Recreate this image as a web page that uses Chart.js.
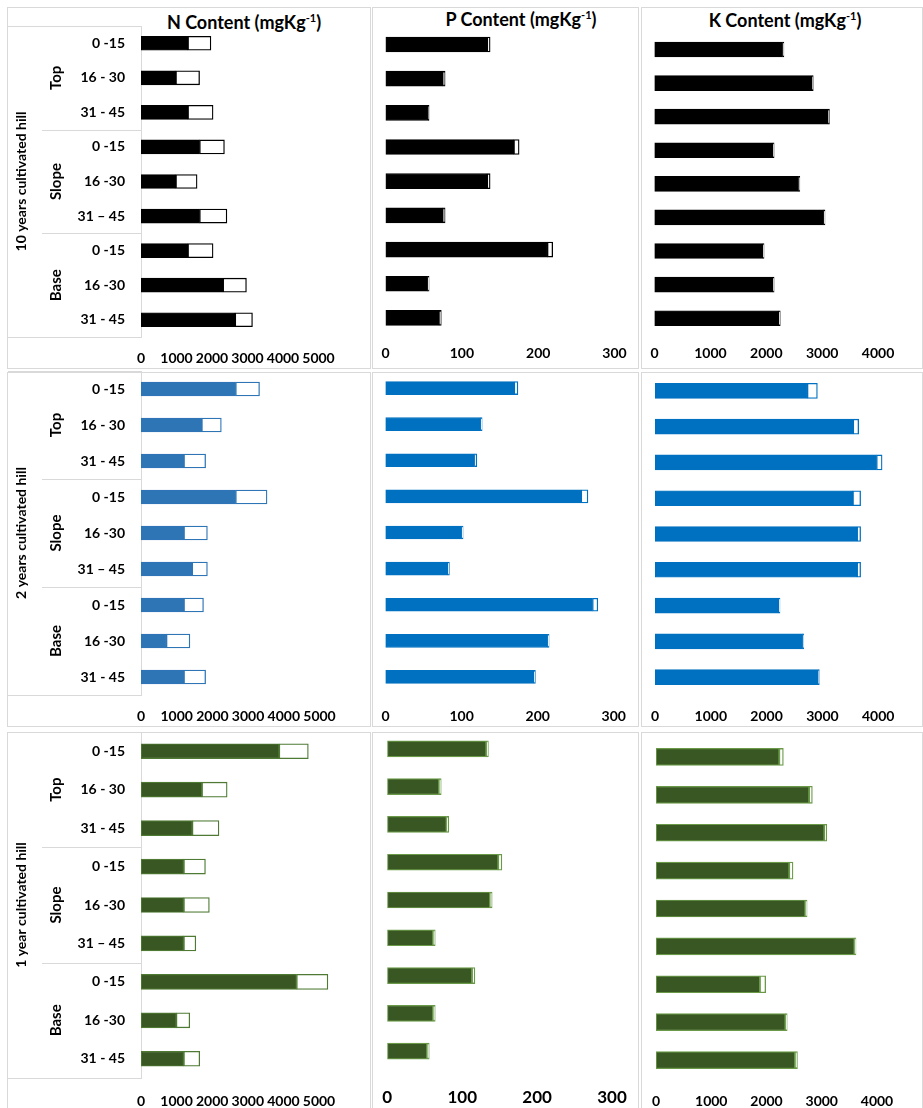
<!DOCTYPE html>
<html>
<head>
<meta charset="utf-8">
<script src="https://cdn.jsdelivr.net/npm/chart.js@4.4.1/dist/chart.umd.min.js"></script>
<style>
  html, body { margin: 0; padding: 0; background: #fff; }
  #wrap { position: relative; width: 923px; height: 1108px; overflow: hidden; background: #fff; font-family: Lato, "Open Sans", sans-serif; }
  .panel { position: absolute; border: 1px solid #d9d9d9; box-sizing: border-box; }
  canvas { position: absolute; }
  .title { position: absolute; height: 24px; line-height: 24px; text-align: center; font-weight: bold; font-size: 18px; color: #000; white-space: nowrap; width: 260px; }
  .title sup { font-size: 11px; line-height: 0; vertical-align: 7px; }
</style>
</head>
<body>
<div id="wrap"></div>
<script>
// ---------------- DATA ----------------
const depthLabels = ["0 -15", "16 - 30", "31 - 45", "0 -15", "16 -30", "31 \u2013 45", "0 -15", "16 -30", "31 - 45"];
const positionLabels = ["Top", "Slope", "Base"];
const hillLabels = ["10 years cultivated hill", "2 years cultivated hill", "1 year cultivated hill"];
const nutrientTitles = ["N Content (mgKg", "P Content (mgKg", "K Content (mgKg"];
const nTicks = [0, 1000, 2000, 3000, 4000, 5000];
const pTicks = [0, 100, 200, 300];
const kTicks = [0, 1000, 2000, 3000, 4000];
const nMax = 6000, pMax = 300, kMax = 4500;

// 10 years cultivated hill
const n10Lower = [1320, 980, 1320, 1650, 980, 1650, 1320, 2310, 2650];
const n10Upper = [650, 670, 710, 700, 600, 770, 710, 660, 490];
const p10Lower = [133, 75, 56, 168, 133, 75, 212, 55, 70];
const p10Upper = [4, 3, 1, 7, 4, 3, 7, 2, 3];
const k10Lower = [2290, 2820, 3105, 2120, 2575, 3025, 1940, 2120, 2225];
const k10Upper = [25, 20, 25, 20, 25, 25, 20, 20, 25];
// 2 years cultivated hill
const n2Lower = [2650, 1700, 1200, 2650, 1200, 1430, 1200, 710, 1200];
const n2Upper = [670, 550, 610, 880, 660, 430, 550, 660, 610];
const p2Lower = [169, 125, 117, 257, 100, 82, 272, 213, 195];
const p2Upper = [5, 2, 3, 9, 2, 2, 7, 2, 2];
const k2Lower = [2730, 3550, 3970, 3545, 3620, 3620, 2220, 2645, 2925];
const k2Upper = [180, 100, 100, 140, 65, 65, 20, 20, 20];
// 1 year cultivated hill
const n1Lower = [3880, 1710, 1440, 1200, 1200, 1200, 4370, 990, 1200];
const n1Upper = [820, 710, 750, 610, 720, 340, 880, 380, 450];
const p1Lower = [132, 69, 79, 148, 137, 61, 113, 61, 53];
const p1Upper = [3, 3, 3, 5, 3, 3, 4, 3, 3];
const k1Lower = [2230, 2770, 3045, 2410, 2700, 3590, 1880, 2340, 2515];
const k1Upper = [75, 60, 45, 70, 35, 30, 105, 35, 45];

// ---------------- STYLE / LAYOUT ----------------
Chart.defaults.font.family = 'Lato, "Open Sans", sans-serif';
Chart.defaults.color = '#000';

const wrap = document.getElementById('wrap');
const panelRows = [[7, 362], [372, 355], [732, 390]];
const panelCols = [[7, 364], [372, 267], [641, 282]];
panelRows.forEach(r => panelCols.forEach(c => {
  const d = document.createElement('div');
  d.className = 'panel';
  d.style.left = c[0] + 'px'; d.style.top = r[0] + 'px';
  d.style.width = c[1] + 'px'; d.style.height = r[1] + 'px';
  wrap.appendChild(d);
}));

const titlePos = [[244, 22], [521, 19], [785, 20]];
nutrientTitles.forEach((t, i) => {
  const d = document.createElement('div');
  d.className = 'title';
  d.style.left = (titlePos[i][0] - 130) + 'px';
  d.style.top = (titlePos[i][1] - 12) + 'px';
  d.innerHTML = t + '<sup>-1</sup>)';
  wrap.appendChild(d);
});

const rowColors = [
  [{ fill: '#000000', edge: '#000000' }, { fill: '#000000', edge: '#000000' }, { fill: '#000000', edge: '#000000' }],
  [{ fill: '#2E75B6', edge: '#2E75B6' }, { fill: '#0070C0', edge: '#0070C0' }, { fill: '#0070C0', edge: '#0070C0' }],
  [{ fill: '#385723', edge: '#4E7A33' }, { fill: '#385723', edge: '#6A9A48' }, { fill: '#385723', edge: '#6A9A48' }]
];

const geo = [
  [{ x0: 141, ppu: 0.0355, top: 26, bottom: 337, labelY: 358, bt: 14, fs: 14 },
   { x0: 385.6, ppu: 0.763, top: 27.4, bottom: 335, labelY: 353, bt: 15, fs: 14 },
   { x0: 654.5, ppu: 0.0559, top: 32.7, bottom: 335, labelY: 353, bt: 15, fs: 14 }],
  [{ x0: 141, ppu: 0.0357, top: 371, bottom: 695, labelY: 716, bt: 14, fs: 14 },
   { x0: 385.5, ppu: 0.761, top: 370, bottom: 695, labelY: 716, bt: 13, fs: 14 },
   { x0: 655, ppu: 0.0558, top: 373, bottom: 695, labelY: 716, bt: 15, fs: 14 }],
  [{ x0: 141, ppu: 0.0356, top: 732, bottom: 1078, labelY: 1101, bt: 15, fs: 14 },
   { x0: 387.3, ppu: 0.749, top: 730, bottom: 1070, labelY: 1098, bt: 16, fs: 17 },
   { x0: 656, ppu: 0.05525, top: 738, bottom: 1079, labelY: 1101, bt: 17, fs: 14 }]
];

const seriesGrid = [
  [[n10Lower, n10Upper], [p10Lower, p10Upper], [k10Lower, k10Upper]],
  [[n2Lower, n2Upper], [p2Lower, p2Upper], [k2Lower, k2Upper]],
  [[n1Lower, n1Upper], [p1Lower, p1Upper], [k1Lower, k1Upper]]
];
const colTicks = [nTicks, pTicks, kTicks];
const colMax = [nMax, pMax, kMax];

const groupPlugin = {
  id: 'groups',
  afterDraw(chart, args, opts) {
    if (!opts.hill) return;
    const ctx = chart.ctx, ys = chart.scales.y, a = chart.chartArea;
    const n = depthLabels.length, per = n / positionLabels.length;
    const band = (a.bottom - a.top) / n;
    const yl = v => Math.round(v) + 0.5;
    ctx.save();
    ctx.strokeStyle = '#d9d9d9';
    ctx.lineWidth = 1;
    ctx.beginPath();
    ctx.moveTo(opts.boxLeft, yl(a.top)); ctx.lineTo(a.left, yl(a.top));
    ctx.moveTo(opts.boxLeft, yl(a.bottom)); ctx.lineTo(a.left, yl(a.bottom));
    for (let g = 1; g < positionLabels.length; g++) {
      const yy = yl(a.top + g * per * band);
      ctx.moveTo(opts.sepLeft, yy); ctx.lineTo(a.left, yy);
    }
    ctx.stroke();
    ctx.fillStyle = '#000';
    ctx.textAlign = 'center';
    ctx.textBaseline = 'middle';
    ctx.font = 'bold 15px Lato, "Open Sans", sans-serif';
    positionLabels.forEach((t, g) => {
      const cy = (ys.getPixelForValue(g * per) + ys.getPixelForValue(g * per + per - 1)) / 2;
      ctx.save(); ctx.translate(opts.posX, cy); ctx.rotate(-Math.PI / 2); ctx.fillText(t, 0, 0); ctx.restore();
    });
    ctx.font = 'bold 14px Lato, "Open Sans", sans-serif';
    ctx.save(); ctx.translate(opts.hillX, (a.top + a.bottom) / 2); ctx.rotate(-Math.PI / 2); ctx.fillText(opts.hill, 0, 0); ctx.restore();
    ctx.restore();
  }
};

const PAD_T = 30, AXIS_H = 40, PAD_B = 5, PAD_LR = 40;

for (let r = 0; r < 3; r++) {
  for (let c = 0; c < 3; c++) {
    const g = geo[r][c];
    const col = rowColors[r][c];
    const [lower, upper] = seriesGrid[r][c];
    const max = colMax[c];
    const xEnd = g.x0 + max * g.ppu;
    const isFirst = c === 0;
    const canvasLeft = isFirst ? 0 : Math.round(g.x0 - PAD_LR);
    const padLeft = isFirst ? 0 : g.x0 - canvasLeft;
    const yWidth = isFirst ? g.x0 : 0;
    const canvasRight = Math.round(xEnd + PAD_LR);
    const padRight = canvasRight - xEnd;
    const canvasTop = Math.round(g.top - PAD_T);
    const padTop = g.top - canvasTop;
    const canvasBottom = Math.round(g.bottom + AXIS_H + PAD_B);
    const padBottom = canvasBottom - g.bottom - AXIS_H;
    const W = canvasRight - canvasLeft, H = canvasBottom - canvasTop;
    const cv = document.createElement('canvas');
    cv.width = W; cv.height = H;
    cv.style.left = canvasLeft + 'px'; cv.style.top = canvasTop + 'px';
    cv.style.width = W + 'px'; cv.style.height = H + 'px';
    wrap.appendChild(cv);
    const tickPad = g.labelY - g.bottom - 0.6 * g.fs;
    const ticks = colTicks[c];

    new Chart(cv, {
      type: 'bar',
      data: {
        labels: depthLabels,
        datasets: [
          { data: lower, backgroundColor: col.fill, borderColor: col.edge, borderWidth: r === 2 ? 1.2 : 0.8, borderSkipped: false, barThickness: g.bt, stack: 's' },
          { data: upper, backgroundColor: '#ffffff', borderColor: col.edge, borderWidth: 1.3, borderSkipped: false, barThickness: g.bt, stack: 's' }
        ]
      },
      options: {
        indexAxis: 'y',
        responsive: false,
        animation: false,
        devicePixelRatio: 1,
        events: [],
        layout: { padding: { left: padLeft, right: padRight, top: padTop, bottom: padBottom } },
        plugins: {
          legend: { display: false },
          tooltip: { enabled: false },
          title: { display: false },
          groups: isFirst ? { hill: hillLabels[r], boxLeft: 8, sepLeft: 42, posX: 56, hillX: 21 } : {}
        },
        scales: {
          x: {
            stacked: true, min: 0, max: max,
            grid: { display: false, drawTicks: false },
            border: { display: false },
            afterBuildTicks: s => { s.ticks = ticks.map(v => ({ value: v })); },
            afterFit: s => { s.height = AXIS_H; },
            ticks: { autoSkip: false, maxRotation: 0, minRotation: 0, padding: tickPad, color: '#000', font: { size: g.fs, weight: 'bold' }, callback: v => String(v) }
          },
          y: {
            stacked: true,
            display: isFirst,
            grid: { display: false, drawTicks: false },
            border: { display: true, color: '#d9d9d9', width: 1 },
            afterFit: s => { s.width = yWidth; },
            ticks: { autoSkip: false, padding: 16, color: '#000', font: { size: 14, weight: 'bold' } }
          }
        }
      },
      plugins: [groupPlugin]
    });
  }
}
</script>
</body>
</html>
